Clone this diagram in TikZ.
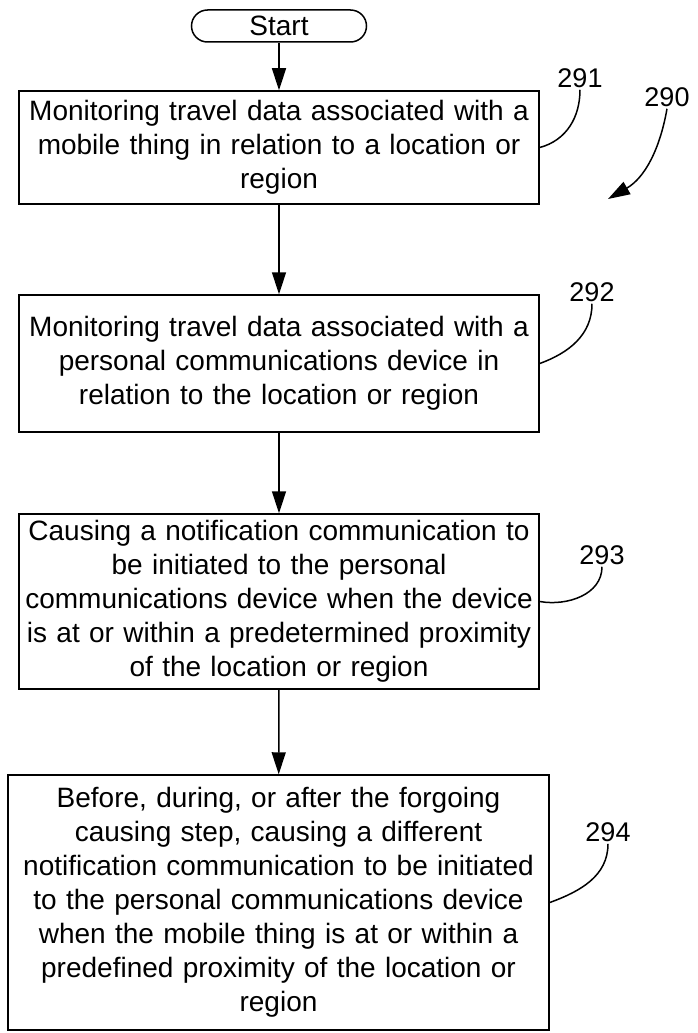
\documentclass[tikz,border=0pt]{standalone}
\usepackage{fontspec}
\setmainfont{Liberation Sans}
\usetikzlibrary{arrows.meta}

\tikzset{
  stepbox/.style={draw, line width=1.5pt, text width=512pt, inner sep=4pt, align=center,
    font=\fontsize{28}{34}\selectfont},
  startbox/.style={draw, line width=1.5pt, rounded corners=16pt, minimum width=175pt,
    minimum height=32pt, inner sep=0pt, font=\fontsize{28}{34}\selectfont},
  flow/.style={line width=1.5pt, -{Triangle[length=22pt,width=14pt]}},
  leader/.style={line width=1.5pt},
  refnum/.style={font=\fontsize{27}{32}\selectfont, inner sep=2pt}
}

\begin{document}
\begin{tikzpicture}[x=1pt,y=-1pt]
  % Fix the page size
  \useasboundingbox (0,0) rectangle (698,1033);
  % Start and the four steps
  \node[startbox] (start) at (279,26) {Start};
  \node[stepbox, minimum height=113pt] (mon1) at (279,147.5)
    {Monitoring travel data associated with a\\ mobile thing in relation to a location or\\ region};
  \node[stepbox, minimum height=137pt] (mon2) at (279,363.5)
    {Monitoring travel data associated with a\\ personal communications device in\\ relation to the location or region};
  \node[stepbox, minimum height=175pt] (notify) at (279,601.5)
    {Causing a notification communication to\\ be initiated to the personal\\ communications device when the device\\ is at or within a predetermined proximity\\ of the location or region};
  \node[stepbox, text width=533pt, minimum height=255pt] (other) at (278.5,902.5)
    {Before, during, or after the forgoing\\ causing step, causing a different\\ notification communication to be initiated\\ to the personal communications device\\ when the mobile thing is at or within a\\ predefined proximity of the location or\\ region};
  % Flow arrows
  \draw[flow] (start) -- (mon1);
  \draw[flow] (mon1) -- (mon2);
  \draw[flow] (mon2) -- (notify);
  \draw[flow] (notify) -- (other);
  % Reference numbers
  \node[refnum] (n290) at (667,97) {290};
  \node[refnum] (n291) at (580,78) {291};
  \node[refnum] (n292) at (592,292) {292};
  \node[refnum] (n293) at (602,555) {293};
  \node[refnum] (n294) at (608,832) {294};
  % Leader lines
  \draw[leader] (n291.south) to[out=-90,in=15] (mon1.east);
  \draw[leader] (n292.south) to[out=-90,in=20] (mon2.east);
  \draw[leader] (n293.south) to[out=-90,in=-10] (notify.east);
  \draw[leader] (n294.south) to[out=-90,in=20] (other.east);
  \coordinate (tip290) at (608,199);
  \draw[flow] (n290.south) to[out=-100,in=30] (tip290);
\end{tikzpicture}
\end{document}
